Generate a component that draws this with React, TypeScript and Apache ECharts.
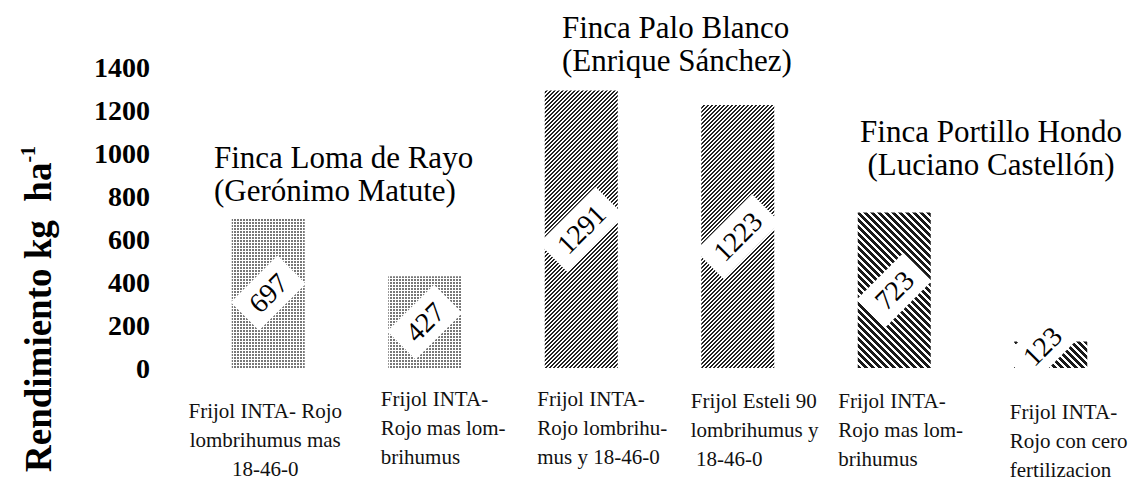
import React, { useEffect, useRef } from 'react';
import * as echarts from 'echarts';

// ---------- data ----------
const categories: string[] = [
  'Frijol INTA- Rojo\nlombrihumus mas\n18-46-0',
  'Frijol INTA-\nRojo mas lom-\nbrihumus',
  'Frijol INTA-\nRojo lombrihu-\nmus y 18-46-0',
  'Frijol Esteli 90\nlombrihumus y\n 18-46-0',
  'Frijol INTA-\nRojo mas lom-\nbrihumus',
  'Frijol INTA-\nRojo con cero\nfertilizacion',
];
const yields: number[] = [697, 427, 1291, 1223, 723, 123];
const yMin = 0;
const yMax = 1400;
const yInterval = 200;
const yTitleMain = 'Rendimiento kg  ha';
const yTitleSup = '-1';
const farmNames: string[] = ['Finca Loma de Rayo', 'Finca Palo Blanco', 'Finca Portillo Hondo'];
const farmOwners: string[] = ['(Gerónimo Matute)', '(Enrique Sánchez)', '(Luciano Castellón)'];
const barPatterns: string[] = ['dots', 'dots', 'fine', 'fine', 'coarse', 'coarse'];

// ---------- layout (not data) ----------
const xLabelLayout = [
  { dx: -3, dy: 42, align: 'center' },
  { dx: -44, dy: 30, align: 'left' },
  { dx: -44, dy: 30, align: 'left' },
  { dx: -47, dy: 32, align: 'left' },
  { dx: -56, dy: 32, align: 'left' },
  { dx: -41, dy: 43, align: 'left' },
];
const farmLayout = [
  { x: 214, y: 173.5, lh: 33, align: 'left' },
  { x: 562, y: 43.5, lh: 33, align: 'left' },
  { x: 991, y: 147.5, lh: 33, align: 'center' },
];
const SERIF = 'Liberation Serif';

function makePattern(kind: string) {
  const n = kind === 'dots' ? 3 : kind === 'fine' ? 4 : 7;
  const c = document.createElement('canvas');
  c.width = n;
  c.height = n;
  const ctx = c.getContext('2d')!;
  ctx.fillStyle = '#ffffff';
  ctx.fillRect(0, 0, n, n);
  for (let x = 0; x < n; x++) {
    for (let y = 0; y < n; y++) {
      let on = false;
      let col = '#111';
      if (kind === 'dots') {
        on = x < 2 && y < 2;
        col = '#777';
      } else if (kind === 'fine') {
        on = (x + y) % 4 < 2;
        col = '#222';
      } else {
        on = (((x - y) % 7) + 7) % 7 < 4;
        col = '#1a1a1a';
      }
      if (on) {
        ctx.fillStyle = col;
        ctx.fillRect(x, y, 1, 1);
      }
    }
  }
  return { image: c, repeat: 'repeat', imageWidth: n, imageHeight: n };
}

export default function App() {
  const ref = useRef<HTMLDivElement>(null);

  useEffect(() => {
    if (!ref.current) return;
    const chart = echarts.init(ref.current, null, { renderer: 'svg' });

    const option: any = {
      animation: false,
      backgroundColor: '#ffffff',
      grid: { left: 190, right: 4, top: 67, bottom: 112 },
      xAxis: {
        type: 'category',
        data: categories,
        axisLine: { show: false },
        axisTick: { show: false },
        axisLabel: { show: false },
        splitLine: { show: false },
      },
      yAxis: {
        type: 'value',
        min: yMin,
        max: yMax,
        interval: yInterval,
        axisLine: { show: false },
        axisTick: { show: false },
        splitLine: { show: false },
        axisLabel: {
          margin: 40,
          fontFamily: SERIF,
          fontWeight: 'bold',
          fontSize: 28,
          color: '#000',
          formatter: (v: number) => String(v),
        },
      },
      series: [
        {
          type: 'bar',
          barWidth: 73,
          data: yields.map((v, i) => ({
            value: v,
            itemStyle: { color: makePattern(barPatterns[i]) },
            label: v < 200 ? { offset: [0, -12] } : undefined,
          })),
          label: {
            show: true,
            position: 'inside',
            rotate: 45,
            formatter: '{c}',
            fontFamily: SERIF,
            fontSize: 28,
            color: '#000',
            backgroundColor: '#ffffff',
            padding: [6, 12],
          },
        },
      ],
    };
    chart.setOption(option);

    const y0 = chart.convertToPixel({ yAxisIndex: 0 }, 0) as number;
    const graphics: any[] = [];
    categories.forEach((txt, i) => {
      const px = chart.convertToPixel({ xAxisIndex: 0 }, i) as number;
      const L = xLabelLayout[i];
      graphics.push({
        type: 'text',
        x: px + L.dx,
        y: y0 + L.dy - 14,
        style: {
          text: txt,
          fontFamily: SERIF,
          fontSize: 21,
          fill: '#111',
          align: L.align,
          textAlign: L.align,
          verticalAlign: 'top',
          textVerticalAlign: 'top',
          lineHeight: 29,
        },
      });
    });
    farmNames.forEach((name, i) => {
      const F = farmLayout[i];
      graphics.push({
        type: 'text',
        x: F.x,
        y: F.y,
        style: {
          text: `${name}\n${farmOwners[i]}`,
          fontFamily: SERIF,
          fontSize: 31,
          lineHeight: F.lh,
          fill: '#000',
          align: F.align,
          textAlign: F.align,
          verticalAlign: 'middle',
          textVerticalAlign: 'middle',
        },
      });
    });
    graphics.push({
      type: 'text',
      x: 38,
      y: 472,
      rotation: Math.PI / 2,
      style: {
        text: `{a|${yTitleMain}}{b|${yTitleSup}}`,
        align: 'left',
        textAlign: 'left',
        verticalAlign: 'middle',
        textVerticalAlign: 'middle',
        rich: {
          a: { fontFamily: SERIF, fontWeight: 'bold', fontSize: 37, lineHeight: 40, fill: '#000', color: '#000' },
          b: {
            fontFamily: SERIF,
            fontWeight: 'bold',
            fontSize: 20,
            lineHeight: 20,
            verticalAlign: 'top',
            fill: '#000',
            color: '#000',
          },
        },
      },
    });
    chart.setOption({ graphic: graphics });

    return () => chart.dispose();
  }, []);

  return (
    <div
      ref={ref}
      style={{ position: 'fixed', left: 0, top: 0, width: 1133, height: 480, background: '#fff' }}
    />
  );
}
